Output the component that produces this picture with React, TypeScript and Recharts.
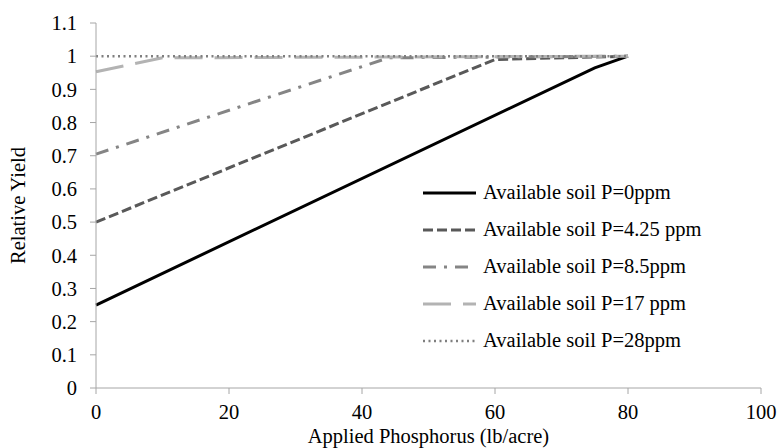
import React from 'react';
import { LineChart, Line, XAxis, YAxis, Legend } from 'recharts';

// applied P (lb/acre) and relative yield for each soil test level
const xP0 = [0, 75, 80];
const yP0 = [0.25, 0.965, 1.0];
const xP425 = [0, 60, 80];
const yP425 = [0.5, 0.99, 1.0];
const xP85 = [0, 44, 80];
const yP85 = [0.705, 0.995, 1.0];
const xP17 = [0, 10, 80];
const yP17 = [0.953, 0.995, 1.0];
const xP28 = [0, 80];
const yP28 = [1.0, 1.0];

const xTicks = [0, 20, 40, 60, 80, 100];
const yTicks = [0, 0.1, 0.2, 0.3, 0.4, 0.5, 0.6, 0.7, 0.8, 0.9, 1.0, 1.1];

const toPoints = (xs: number[], ys: number[]) => xs.map((x, i) => ({ x, y: ys[i] }));

const series = [
  { name: 'Available soil P=0ppm', data: toPoints(xP0, yP0), color: '#000000', dash: undefined, width: 3 },
  { name: 'Available soil P=4.25 ppm', data: toPoints(xP425, yP425), color: '#595959', dash: '10 4', width: 3 },
  { name: 'Available soil P=8.5ppm', data: toPoints(xP85, yP85), color: '#858585', dash: '13 8 3 8', width: 3 },
  { name: 'Available soil P=17 ppm', data: toPoints(xP17, yP17), color: '#b3b3b3', dash: '28 12', width: 3 },
  { name: 'Available soil P=28ppm', data: toPoints(xP28, yP28), color: '#7f7f7f', dash: '2 3.5', width: 2.5 },
];

const FONT = 'Liberation Serif, DejaVu Serif, serif';
const FS = 20.5;
const AXIS = '#a6a6a6';

const LegendBox = () => (
  <div style={{ fontFamily: FONT, fontSize: FS, color: '#000' }}>
    {series.map((s) => (
      <div key={s.name} style={{ display: 'flex', alignItems: 'center', height: 37, whiteSpace: 'nowrap' }}>
        <svg width={56} height={10} style={{ marginRight: 5 }}>
          <line x1={1} y1={5} x2={54} y2={5} stroke={s.color} strokeWidth={s.width} strokeDasharray={s.dash} />
        </svg>
        <span>{s.name}</span>
      </div>
    ))}
  </div>
);

const fmt = (v: number) => String(Number(v.toFixed(1)));

export default function App() {
  return (
    <div style={{ position: 'absolute', left: 0, top: 0, background: '#fff', fontFamily: FONT }}>
      <LineChart width={778} height={448} margin={{ top: 23, right: 17, bottom: 0, left: 0 }} style={{ fontFamily: FONT }}>
        <XAxis
          dataKey="x"
          type="number"
          domain={[0, 100]}
          ticks={xTicks}
          allowDuplicatedCategory={false}
          height={60}
          tickSize={6}
          tickMargin={10}
          stroke={AXIS}
          tick={{ fill: '#000', fontSize: FS, fontFamily: FONT }}
          label={{ value: 'Applied Phosphorus (lb/acre)', position: 'insideBottom', offset: 5, fill: '#000', fontSize: FS, fontFamily: FONT }}
        />
        <YAxis
          dataKey="y"
          type="number"
          domain={[0, 1.1]}
          ticks={yTicks}
          width={96}
          tickSize={6}
          tickMargin={13}
          stroke={AXIS}
          tickFormatter={fmt}
          tick={{ fill: '#000', fontSize: FS, fontFamily: FONT }}
          label={{ value: 'Relative Yield', angle: -90, position: 'insideLeft', offset: 18, fill: '#000', fontSize: FS, fontFamily: FONT, style: { textAnchor: 'middle' } }}
        />
        <Legend
          layout="vertical"
          verticalAlign="middle"
          align="center"
          content={<LegendBox />}
          wrapperStyle={{ left: 422, top: 174, width: 340 }}
        />
        {series.map((s) => (
          <Line
            key={s.name}
            data={s.data}
            dataKey="y"
            name={s.name}
            type="linear"
            stroke={s.color}
            strokeWidth={s.width}
            strokeDasharray={s.dash}
            dot={false}
            activeDot={false}
            isAnimationActive={false}
          />
        ))}
      </LineChart>
    </div>
  );
}
